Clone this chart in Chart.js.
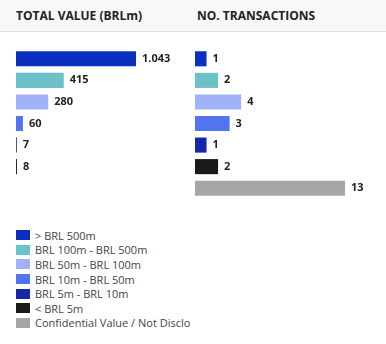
<!DOCTYPE html>
<html>
<head>
<meta charset="utf-8">
<script src="https://cdn.jsdelivr.net/npm/chart.js@4"></script>
<style>
  html, body { margin: 0; padding: 0; background: #fff; }
  body { width: 386px; height: 344px; position: relative; overflow: hidden; font-family: "Open Sans", sans-serif; }
  .head { position: absolute; left: 0; top: 0; width: 386px; height: 31px; background: #f8f8f8; border-bottom: 1px solid #e2e2e2; }
  .title { position: absolute; top: 7px; font-weight: 700; font-size: 12px; color: #222; white-space: nowrap; }
  .box { position: absolute; }
  #legend { position: absolute; left: 16px; top: 228px; width: 174px; overflow: hidden; }
  .item { height: 14.6px; display: flex; align-items: center; white-space: nowrap; font-size: 11px; color: #444; }
  .sw { width: 14px; height: 10px; margin-right: 5px; flex: none; }
</style>
</head>
<body>
<div class="head"></div>
<div class="title" style="left:16px">TOTAL VALUE (BRLm)</div>
<div class="title" style="left:197px">NO. TRANSACTIONS</div>
<div class="box" style="left:16px;top:48px;width:170px;height:151px"><canvas id="valueChart"></canvas></div>
<div class="box" style="left:195px;top:48px;width:180px;height:151px"><canvas id="countChart"></canvas></div>
<div id="legend"></div>
<script>
const categories = ["> BRL 500m", "BRL 100m - BRL 500m", "BRL 50m - BRL 100m", "BRL 10m - BRL 50m", "BRL 5m - BRL 10m", "< BRL 5m", "Confidential Value / Not Disclosed"];
const totalValue = [1043, 415, 280, 60, 7, 8, null];
const transactions = [1, 2, 4, 3, 1, 2, 13];
const colors = ["#0b30c0", "#6bc1c8", "#a0b3f8", "#5274f0", "#1529a8", "#1a1a1a", "#a6a6a6"];

// thousands separator as a dot (pt-BR style)
function fmt(v) {
  return String(v).replace(/\B(?=(\d{3})+(?!\d))/g, ".");
}

const valueLabels = {
  id: "valueLabels",
  afterDatasetsDraw(chart) {
    const ctx = chart.ctx;
    const meta = chart.getDatasetMeta(0);
    const data = chart.data.datasets[0].data;
    ctx.save();
    ctx.font = "bold 11px 'Open Sans', sans-serif";
    ctx.fillStyle = "#222";
    ctx.textBaseline = "middle";
    ctx.textAlign = "left";
    meta.data.forEach((bar, i) => {
      if (data[i] == null) return;
      ctx.fillText(fmt(data[i]), bar.x + 6, bar.y);
    });
    ctx.restore();
  }
};

function makeChart(id, values, max) {
  return new Chart(document.getElementById(id), {
    type: "bar",
    data: {
      labels: categories,
      datasets: [{
        data: values,
        backgroundColor: colors,
        borderWidth: 0,
        categoryPercentage: 1,
        barPercentage: 0.7
      }]
    },
    options: {
      indexAxis: "y",
      responsive: true,
      maintainAspectRatio: false,
      animation: false,
      layout: { padding: 0 },
      plugins: { legend: { display: false }, tooltip: { enabled: false } },
      scales: {
        x: { display: false, min: 0, max: max },
        y: { display: false }
      }
    },
    plugins: [valueLabels]
  });
}

makeChart("valueChart", totalValue, 1043 * 170 / 120);
makeChart("countChart", transactions, 13 * 180 / 150);

const legend = document.getElementById("legend");
categories.forEach((c, i) => {
  const row = document.createElement("div");
  row.className = "item";
  const sw = document.createElement("span");
  sw.className = "sw";
  sw.style.background = colors[i];
  const t = document.createElement("span");
  t.textContent = c;
  row.appendChild(sw);
  row.appendChild(t);
  legend.appendChild(row);
});
</script>
</body>
</html>
